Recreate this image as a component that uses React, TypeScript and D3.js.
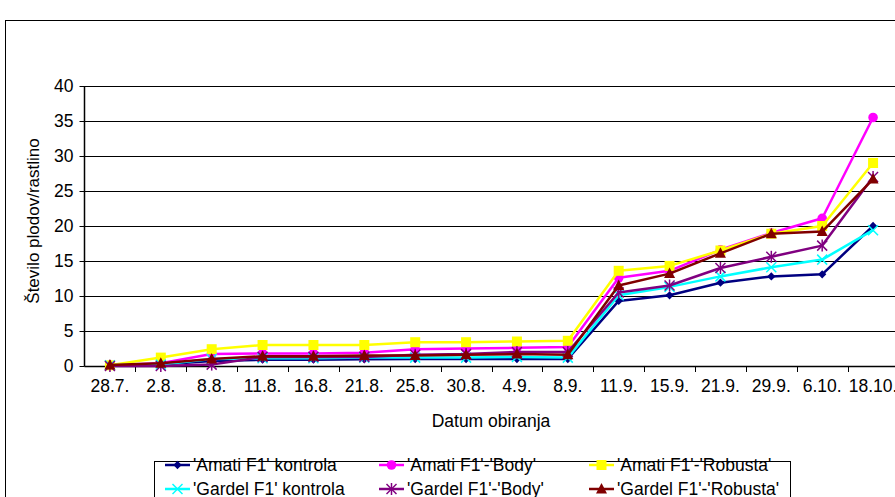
import React from "react";
import * as d3 from "d3";

const categories = ["28.7.", "2.8.", "8.8.", "11.8.", "16.8.", "21.8.", "25.8.", "30.8.", "4.9.", "8.9.", "11.9.", "15.9.", "21.9.", "29.9.", "6.10.", "18.10."];

const amatiKontrola = [0.1, 0.2, 0.7, 0.9, 0.9, 0.95, 1.0, 1.0, 1.0, 1.0, 9.3, 10.1, 11.9, 12.8, 13.1, 20.0];
const amatiBody = [0.1, 0.4, 1.7, 1.8, 1.8, 1.9, 2.4, 2.5, 2.6, 2.7, 12.6, 13.6, 16.6, 19.0, 21.1, 35.5];
const amatiRobusta = [0.1, 1.2, 2.4, 3.0, 3.0, 3.0, 3.4, 3.4, 3.5, 3.6, 13.6, 14.3, 16.5, 18.9, 20.0, 29.0];
const gardelKontrola = [0.1, 0.2, 1.0, 1.1, 1.1, 1.2, 1.2, 1.2, 1.3, 1.2, 10.1, 11.3, 12.8, 14.1, 15.2, 19.4];
const gardelBody = [0.0, 0.0, 0.2, 1.3, 1.3, 1.3, 1.6, 1.7, 2.0, 2.0, 10.5, 11.5, 14.0, 15.6, 17.2, 27.0];
const gardelRobusta = [0.15, 0.4, 1.0, 1.4, 1.4, 1.5, 1.5, 1.6, 1.7, 1.6, 11.5, 13.2, 16.1, 18.9, 19.2, 26.7];

const yTicks = [0, 5, 10, 15, 20, 25, 30, 35, 40];

type Marker = "diamond" | "circle" | "square" | "cross" | "asterisk" | "triangle";

const series: { name: string; values: number[]; color: string; marker: Marker }[] = [
  { name: "'Amati F1' kontrola", values: amatiKontrola, color: "#000080", marker: "diamond" },
  { name: "'Amati F1'-'Body'", values: amatiBody, color: "#FF00FF", marker: "circle" },
  { name: "'Amati F1'-'Robusta'", values: amatiRobusta, color: "#FFFF00", marker: "square" },
  { name: "'Gardel F1' kontrola", values: gardelKontrola, color: "#00FFFF", marker: "cross" },
  { name: "'Gardel F1'-'Body'", values: gardelBody, color: "#800080", marker: "asterisk" },
  { name: "'Gardel F1'-'Robusta'", values: gardelRobusta, color: "#800000", marker: "triangle" },
];

const W = 895;
const H = 497;
const left = 84.5;
const right = 898.5;
const top = 86;
const bottom = 366;
const font = "'Liberation Sans', Arial, sans-serif";
const fs = 17.5;

function MarkerShape({ kind, x, y, color }: { kind: Marker; x: number; y: number; color: string }) {
  const t = `translate(${x},${y})`;
  switch (kind) {
    case "diamond":
      return <path transform={t} d={d3.symbol(d3.symbolDiamond2, 44)() || ""} fill={color} />;
    case "circle":
      return <circle cx={x} cy={y} r={4.8} fill={color} />;
    case "square":
      return <rect x={x - 5} y={y - 5} width={10} height={10} fill={color} />;
    case "cross":
      return (
        <g transform={t} stroke={color} strokeWidth={1.5}>
          <line x1={-5} y1={-5} x2={5} y2={5} />
          <line x1={-5} y1={5} x2={5} y2={-5} />
        </g>
      );
    case "asterisk":
      return (
        <g transform={t} stroke={color} strokeWidth={1.5}>
          <line x1={-5} y1={-5} x2={5} y2={5} />
          <line x1={-5} y1={5} x2={5} y2={-5} />
          <line x1={0} y1={-6} x2={0} y2={6} />
        </g>
      );
    case "triangle":
      return <path transform={t} d="M0,-6L5.5,4.5L-5.5,4.5Z" fill={color} />;
  }
}

export default function App() {
  const x = d3.scaleBand<string>().domain(categories).range([left, right]);
  const y = d3.scaleLinear().domain([0, 40]).range([bottom, top]);
  const cx = (c: string) => (x(c) ?? 0) + x.bandwidth() / 2;

  const line = d3
    .line<number>()
    .x((_, i) => cx(categories[i]))
    .y((v) => y(v));

  const legendCols = [165, 379, 589];
  const legendRows = [465, 489];

  return (
    <svg width={W} height={H} style={{ position: "absolute", left: 0, top: 0, background: "#fff" }} fontFamily={font}>
      <rect x={5.5} y={20.5} width={W + 10} height={H} fill="#fff" stroke="#000" strokeWidth={1} />

      {/* horizontal gridlines and y ticks */}
      {yTicks.map((t) => (
        <g key={t}>
          <line x1={left} x2={W} y1={Math.round(y(t)) + 0.5} y2={Math.round(y(t)) + 0.5} stroke="#000" strokeWidth={1} />
          <line x1={left - 5} x2={left} y1={Math.round(y(t)) + 0.5} y2={Math.round(y(t)) + 0.5} stroke="#000" />
          <text x={left - 11} y={y(t)} dy="0.35em" textAnchor="end" fontSize={fs} fill="#000">
            {t}
          </text>
        </g>
      ))}

      {/* axes */}
      <line x1={left} x2={left} y1={top} y2={bottom} stroke="#000" strokeWidth={1.5} />
      <line x1={left} x2={W} y1={bottom + 0.5} y2={bottom + 0.5} stroke="#000" strokeWidth={1.5} />
      {categories.map((c, i) => (
        <g key={c}>
          {i > 0 && (
            <line x1={Math.round(x(c) ?? 0) + 0.5} x2={Math.round(x(c) ?? 0) + 0.5} y1={bottom} y2={bottom + 6} stroke="#000" />
          )}
          <text x={cx(c)} y={bottom + 20} dy="0.35em" textAnchor="middle" fontSize={fs} fill="#000">
            {c}
          </text>
        </g>
      ))}

      <text x={491} y={421} dy="0.35em" textAnchor="middle" fontSize={fs} fill="#000">
        Datum obiranja
      </text>
      <text transform="translate(33,221) rotate(-90)" dy="0.35em" textAnchor="middle" fontSize={17} fill="#000">
        Število plodov/rastlino
      </text>

      {/* series */}
      {series.map((s) => (
        <g key={s.name}>
          <path d={line(s.values) || ""} fill="none" stroke={s.color} strokeWidth={2.5} strokeLinejoin="round" />
          {s.values.map((v, i) => (
            <MarkerShape key={i} kind={s.marker} x={cx(categories[i])} y={y(v)} color={s.color} />
          ))}
        </g>
      ))}

      {/* legend */}
      <rect x={154.5} y={461.5} width={636} height={50} fill="#fff" stroke="#000" strokeWidth={1} />
      {series.map((s, i) => {
        const lx = legendCols[i % 3];
        const ly = legendRows[Math.floor(i / 3)];
        return (
          <g key={s.name}>
            <line x1={lx} x2={lx + 25} y1={ly} y2={ly} stroke={s.color} strokeWidth={2.5} />
            <MarkerShape kind={s.marker} x={lx + 12.5} y={ly} color={s.color} />
            <text x={lx + 28} y={ly} dy="0.35em" fontSize={fs} fill="#000">
              {s.name}
            </text>
          </g>
        );
      })}
    </svg>
  );
}
